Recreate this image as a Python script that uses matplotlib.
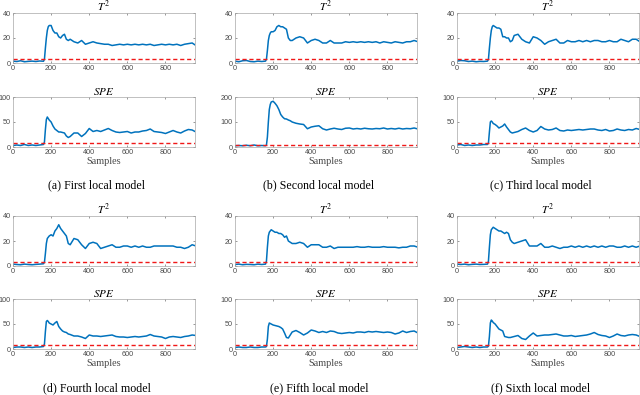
import matplotlib.pyplot as plt
import numpy as np

plt.rcParams['mathtext.fontset'] = 'stix'

# sample positions
samples = [0, 20, 40, 60, 80, 100, 120, 140, 160,
           165, 170, 175, 180, 185, 190,
           200, 210, 220, 230, 240, 250, 260, 270, 280, 290, 300,
           320, 340, 360, 380, 400, 420, 440, 460, 480, 500, 520, 540, 560, 580,
           600, 620, 640, 660, 680, 700, 720, 740, 760, 780, 800, 820, 840, 860,
           880, 900, 920, 940, 960]

# (a) First local model
t2_a = [1.5, 1.2, 1.8, 1.0, 1.3, 1.5, 1.2, 1.6, 1.4,
        3, 12, 20, 26, 29, 30,
        30, 26, 24, 24, 21, 20, 22, 23, 19, 18, 19,
        17, 16, 18, 15, 16, 17, 16, 15.5, 15, 15, 14, 14.5, 15, 14.5,
        15, 14.5, 15, 14.5, 15, 14.5, 15, 14, 14.5, 15, 14.5, 15, 14.5, 15,
        14, 15, 15.5, 16, 14]
spe_a = [3, 4, 3, 5, 3, 4, 3, 4, 5,
         10, 35, 55, 60, 57, 54,
         50, 42, 36, 33, 30, 30, 29, 28, 22, 19, 21,
         28, 28, 21, 27, 37, 31, 33, 31, 34, 37, 33, 30, 29, 30,
         31, 28, 30, 30, 32, 33, 36, 31, 30, 29, 27, 30, 33, 30,
         28, 32, 35, 34, 30]

# (b) Second local model
t2_b = [1.5, 1.0, 1.8, 2.0, 1.2, 1.0, 1.5, 1.2, 1.5,
        3, 10, 18, 22, 24, 25,
        25, 26, 29, 30, 29, 29, 28, 27, 20, 18, 18,
        20, 21, 20, 16, 18, 19, 18, 16, 16, 18, 16, 16, 16, 17,
        16.5, 17, 16.5, 17, 16.5, 17, 16.5, 17, 16, 17, 16.5, 16, 17, 16.5,
        16, 17, 17, 18, 17]
spe_b = [5, 6, 5, 7, 5, 8, 5, 6, 5,
         8, 40, 100, 150, 170, 180,
         183, 175, 165, 150, 130, 120, 113, 112, 108, 105, 100,
         95, 92, 90, 73, 80, 83, 85, 73, 68, 72, 75, 72, 70, 75,
         76, 72, 74, 72, 75, 73, 72, 74, 73, 76, 72, 74, 72, 75,
         72, 74, 73, 76, 72]

# (c) Third local model
t2_c = [1.5, 2.0, 1.8, 1.2, 1.5, 1.0, 1.3, 1.2, 1.5,
        3, 12, 20, 26, 29, 30,
        29, 28, 28, 27, 21, 21, 20, 20, 17, 18, 22,
        23, 19, 17, 16, 21, 20, 18, 15, 17, 18, 19, 16, 16, 18,
        17, 17, 18, 17, 18, 17, 18, 18, 17, 17, 18, 17, 17, 19,
        18, 17, 19, 19, 17]
spe_c = [4, 5, 3, 4, 3, 4, 4, 5, 5,
         8, 30, 50, 52, 50, 47,
         45, 42, 38, 40, 42, 46, 40, 35, 30, 28, 29,
         31, 35, 38, 33, 30, 33, 41, 36, 34, 35, 38, 33, 32, 34,
         33, 34, 35, 34, 35, 36, 36, 34, 33, 35, 32, 33, 36, 34,
         33, 35, 34, 37, 35]

# (d) Fourth local model
t2_d = [1.5, 1.2, 1.0, 1.5, 1.2, 1.0, 1.3, 1.5, 1.8,
        3, 10, 18, 22, 23, 24,
        25, 24, 28, 30, 33, 30, 28, 26, 24, 18, 17,
        22, 21, 17, 14, 18, 19, 18, 14, 15, 16, 17, 15, 15, 16,
        16, 15, 16, 15, 16, 15, 15, 16, 16, 16, 16, 16, 16, 15,
        15, 14, 15, 17, 16]
spe_d = [3, 4, 4, 3, 4, 3, 4, 4, 5,
         10, 35, 55, 57, 55, 52,
         50, 48, 52, 55, 45, 40, 36, 34, 33, 30, 29,
         26, 26, 24, 21, 28, 26, 26, 25, 26, 27, 28, 25, 24, 24,
         23, 24, 25, 24, 25, 26, 29, 26, 25, 24, 21, 24, 25, 24,
         23, 25, 26, 28, 27]

# (e) Fifth local model
t2_e = [1.2, 1.5, 1.0, 1.3, 1.2, 1.0, 1.5, 1.2, 1.5,
        4, 15, 24, 27, 28, 29,
        28, 27, 27, 26, 26, 25, 23, 24, 20, 19, 18,
        18, 19, 18, 15, 17, 17, 17, 15, 15, 16, 14, 15, 15, 15,
        15, 15, 15.5, 15, 15, 15.5, 15, 15, 15, 15.5, 15, 15, 15, 14.5,
        15, 15, 16, 16, 15]
spe_e = [3, 4, 3, 3, 4, 3, 3, 4, 4,
         5, 20, 45, 52, 51, 50,
         48, 47, 46, 45, 43, 40, 32, 23, 22, 28, 34,
         37, 33, 28, 32, 38, 36, 33, 35, 33, 36, 35, 32, 31, 32,
         33, 32, 34, 34, 33, 35, 34, 35, 34, 33, 34, 33, 30, 32,
         36, 33, 35, 36, 32]

# (f) Sixth local model
t2_f = [1.5, 1.2, 1.5, 1.0, 1.3, 1.5, 1.2, 1.3, 1.5,
        4, 15, 25, 29, 30, 31,
        30, 29, 28, 28, 27, 26, 27, 26, 21, 19, 18,
        19, 20, 21, 16, 16, 16, 18, 15, 15, 16, 15, 14, 15, 15,
        16, 15, 16, 15, 16, 15, 16, 15, 16, 15, 16, 16, 15, 15,
        16, 15, 16, 15, 16]
spe_f = [3, 4, 5, 4, 3, 4, 3, 4, 4,
         6, 25, 52, 58, 56, 53,
         50, 45, 40, 38, 36, 25, 24, 23, 23, 24, 25,
         27, 21, 19, 26, 32, 26, 27, 28, 28, 29, 30, 28, 26, 26,
         27, 25, 26, 27, 28, 30, 33, 29, 27, 26, 23, 26, 30, 27,
         26, 28, 29, 28, 25]

captions = ['(a) First local model', '(b) Second local model', '(c) Third local model',
            '(d) Fourth local model', '(e) Fifth local model', '(f) Sixth local model']
t2_all = [t2_a, t2_b, t2_c, t2_d, t2_e, t2_f]
spe_all = [spe_a, spe_b, spe_c, spe_d, spe_e, spe_f]
spe_max = [100, 200, 100, 100, 100, 100]

t2_limit = 3.3
spe_limit = 8.7

W, H = 640, 395
col_left = [13, 235, 457]
col_width = 182
row_top = [(13, 97), (216, 299)]
ax_h = 50

blue = '#0072BD'
red = '#f01818'
edge = '#a6a6a6'
tick_col = '#4a4a4a'

fig = plt.figure(figsize=(6.4, 3.95), dpi=100)

def setup(ax, ymax, yticks):
    ax.set_xlim(0, 955)
    ax.set_ylim(0, ymax)
    ax.set_xticks([0, 200, 400, 600, 800])
    ax.set_yticks(yticks)
    ax.tick_params(direction='in', length=1.5, width=0.4, labelsize=5.2,
                   colors=tick_col, pad=1.5, top=True, right=True)
    for lab in ax.get_xticklabels() + ax.get_yticklabels():
        lab.set_fontfamily('Liberation Sans')
    for s in ax.spines.values():
        s.set_color(edge)
        s.set_linewidth(0.5)

for i in range(6):
    r, c = divmod(i, 3)
    left = col_left[c] / W
    w = col_width / W
    t_top, s_top = row_top[r]

    ax1 = fig.add_axes([left, 1 - (t_top + ax_h) / H, w, ax_h / H])
    ax1.plot(samples, t2_all[i], color=blue, lw=1.1)
    ax1.axhline(t2_limit, color=red, ls=(0, (3, 2)), lw=1.0)
    setup(ax1, 40, [0, 20, 40])
    ax1.set_title('$T^2$', fontsize=8, pad=1.5)

    ax2 = fig.add_axes([left, 1 - (s_top + ax_h) / H, w, ax_h / H])
    ax2.plot(samples, spe_all[i], color=blue, lw=1.1)
    ax2.axhline(spe_limit, color=red, ls=(0, (3, 2)), lw=1.0)
    if spe_max[i] == 200:
        setup(ax2, 200, [0, 100, 200])
    else:
        setup(ax2, 100, [0, 50, 100])
    ax2.set_title('$SPE$', fontsize=8, pad=1.5)
    ax2.set_xlabel('Samples', fontsize=7.4, family='Liberation Serif',
                   color=tick_col, labelpad=0.5)

    cx = (col_left[c] + col_width / 2 - 7) / W
    cy = 1 - (185 if r == 0 else 388) / H
    fig.text(cx, cy, captions[i], ha='center', va='center', fontsize=8.6,
             family='Liberation Serif')

fig.savefig('out.png', dpi=100)
